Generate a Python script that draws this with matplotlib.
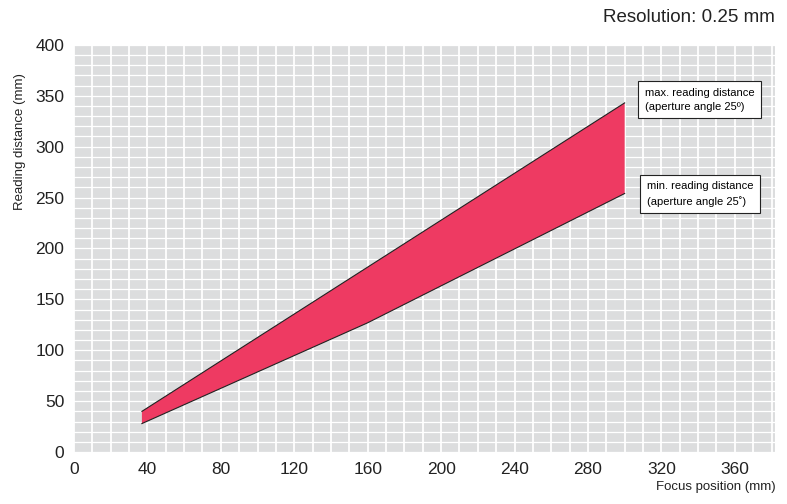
import matplotlib
matplotlib.use("Agg")
import matplotlib.pyplot as plt
import numpy as np

plt.rcParams["font.family"] = ["Liberation Sans", "DejaVu Sans"]

# data
upper_x = [37, 300]
upper_y = [40, 343]
lower_x = [37, 160, 300]
lower_y = [28, 127, 254]

xticks = [0, 40, 80, 120, 160, 200, 240, 280, 320, 360]
yticks = [0, 50, 100, 150, 200, 250, 300, 350, 400]

fig = plt.figure(figsize=(7.87, 5.04), dpi=100)
ax = fig.add_axes([0.094, 0.103, 0.891, 0.808])
ax.set_facecolor("#dcddde")

# polygon: upper line then lower line reversed
px = upper_x + lower_x[::-1]
py = upper_y + lower_y[::-1]
ax.fill(px, py, color="#ee3a62", zorder=3, lw=0)
ax.plot(upper_x, upper_y, color="#222222", lw=0.8, zorder=4)
ax.plot(lower_x, lower_y, color="#222222", lw=0.8, zorder=4)

ax.set_xlim(0, 382)
ax.set_ylim(0, 400)
ax.set_xticks(xticks)
ax.set_yticks(yticks)
ax.set_xticks(np.arange(10, 382, 10), minor=True)
ax.set_yticks(np.arange(10, 400, 10), minor=True)
ax.grid(True, which="both", axis="x", color="white", lw=1.3, zorder=1)
ax.grid(True, which="both", axis="y", color="white", lw=0.9, zorder=1)
ax.set_axisbelow(True)
ax.tick_params(which="both", length=0, labelsize=12.5, colors="#222222", pad=7)
for s in ax.spines.values():
    s.set_visible(False)

ax.text(311, 358, "max. reading distance\n(aperture angle 25º)", fontsize=8,
        ha="left", va="top", zorder=5, linespacing=1.5,
        bbox=dict(boxstyle="square,pad=0.6", fc="white", ec="#222222", lw=0.8))
ax.text(312, 266, "min. reading distance\n(aperture angle 25˚)", fontsize=8,
        ha="left", va="top", zorder=5, linespacing=1.5,
        bbox=dict(boxstyle="square,pad=0.6", fc="white", ec="#222222", lw=0.8))

fig.text(0.025, 0.72, "Reading distance (mm)", rotation=90, fontsize=9.5,
         ha="center", va="center", color="#222222")
fig.text(0.985, 0.022, "Focus position (mm)", fontsize=9.5, ha="right",
         va="bottom", color="#222222")
fig.text(0.985, 0.965, "Resolution: 0.25 mm", fontsize=13.5, ha="right",
         va="center", color="#222222")

fig.savefig("out.png", dpi=100)
